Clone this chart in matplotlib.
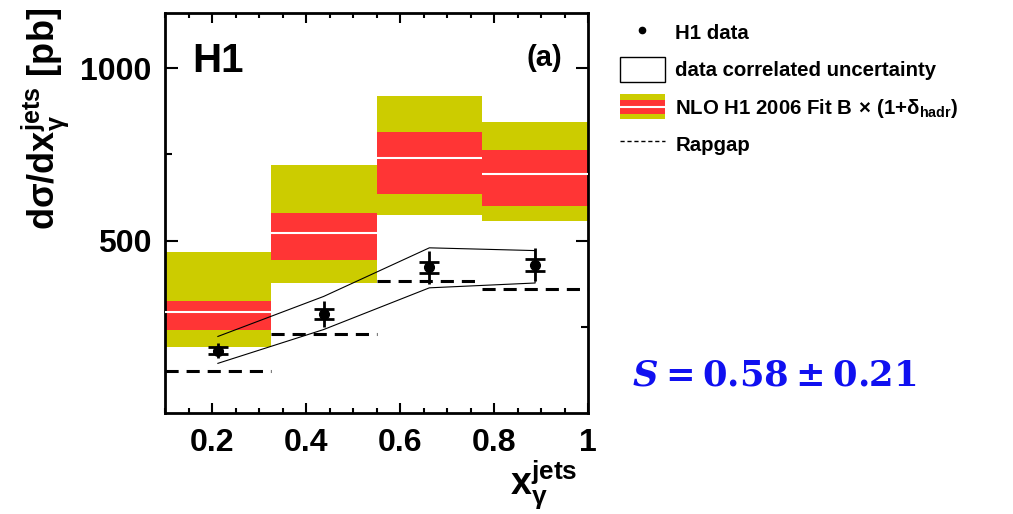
import numpy as np
import matplotlib
matplotlib.use("Agg")
import matplotlib.pyplot as plt
from matplotlib.lines import Line2D
from matplotlib.patches import Rectangle
from matplotlib.legend_handler import HandlerBase

plt.rcParams['font.family'] = ['Liberation Sans', 'DejaVu Sans']
plt.rcParams['font.weight'] = 'bold'
plt.rcParams['mathtext.fontset'] = 'custom'
plt.rcParams['mathtext.rm'] = 'Liberation Sans:bold'
plt.rcParams['mathtext.it'] = 'Liberation Sans:bold'
plt.rcParams['mathtext.bf'] = 'Liberation Sans:bold'

# binning in x_gamma^jets
bin_edges = [0.1, 0.325, 0.55, 0.775, 1.0]
bin_centres = [0.2125, 0.4375, 0.6625, 0.8875]

# H1 data [pb]
data = [181, 287, 423, 430]
stat_err = [11, 15, 16, 17]
tot_err = [22, 37, 48, 48]

# data correlated uncertainty band
corr_up = [222, 338, 479, 471]
corr_dn = [144, 242, 363, 377]

# NLO H1 2006 Fit B x (1+delta_hadr)
nlo = [292, 521, 739, 694]
nlo_in_lo = [242, 445, 634, 600]
nlo_in_hi = [326, 579, 816, 764]
nlo_out_lo = [190, 376, 573, 558]
nlo_out_hi = [468, 718, 918, 845]

# Rapgap
rapgap = [121, 229, 384, 361]

yellow = '#cccc00'
red = '#ff3535'

fig = plt.figure(figsize=(10.13, 5.14), dpi=100)
ax = fig.add_axes([165 / 1013, 1 - 413 / 514, 423 / 1013, 400 / 514])

lo = np.array(bin_edges[:-1])
hi = np.array(bin_edges[1:])
w = hi - lo

ax.bar(lo, np.array(nlo_out_hi) - np.array(nlo_out_lo), width=w, bottom=nlo_out_lo,
       align='edge', color=yellow, linewidth=0, zorder=1)
ax.bar(lo, np.array(nlo_in_hi) - np.array(nlo_in_lo), width=w, bottom=nlo_in_lo,
       align='edge', color=red, linewidth=0, zorder=2)
ax.hlines(nlo, lo, hi, colors='white', linewidth=1.5, zorder=3)

ax.hlines(rapgap, lo, hi, colors='black', linewidth=2.2,
          linestyles=(0, (4.3, 2.6)), zorder=4)

ax.plot(bin_centres + bin_centres[::-1], corr_up + corr_dn[::-1],
        color='black', linewidth=0.8, zorder=5)

ax.errorbar(bin_centres, data, yerr=tot_err, fmt='none', ecolor='black',
            elinewidth=2, zorder=6)
ax.errorbar(bin_centres, data, yerr=stat_err, fmt='o', color='black', ms=7,
            elinewidth=2, capsize=7.5, capthick=2, zorder=7)

ax.set_xlim(0.1, 1.0)
ax.set_ylim(0, 1160)
ax.set_xticks([0.2, 0.4, 0.6, 0.8, 1.0])
ax.set_xticklabels(['0.2', '0.4', '0.6', '0.8', '1'])
ax.set_xticks(np.arange(0.1, 1.0, 0.05), minor=True)
ax.set_yticks([500, 1000])
ax.set_yticks([250, 750], minor=True)
ax.tick_params(which='both', direction='in', top=True, right=True, width=1.5,
               labelsize=23)
ax.tick_params(axis='x', which='major', length=7, pad=11)
ax.tick_params(axis='x', which='minor', length=3.5)
ax.tick_params(axis='y', which='major', length=9, pad=10)
ax.tick_params(axis='y', which='minor', length=5)
for s in ax.spines.values():
    s.set_linewidth(2)

ax.text(0.064, 0.853, 'H1', transform=ax.transAxes, fontsize=29,
        fontweight='bold', va='baseline', ha='left')
ax.text(0.938, 0.868, '(a)', transform=ax.transAxes, fontsize=21,
        fontweight='bold', va='baseline', ha='right')

fig.text(0.045, 0.985, r'd$\sigma$/dx$^{\rm jets}_{\gamma}$ [pb]', rotation=90,
         fontsize=26, fontweight='bold', ha='center', va='top')
fig.text(577 / 1013, 2 / 514, r'x$^{\rm jets}_{\gamma}$', fontsize=27,
         fontweight='bold', ha='right', va='bottom')

fig.text(632 / 1013, 1 - 385 / 514, r'$\mathbfit{S} = \mathbf{0.58} \pm \mathbf{0.21}$',
         fontsize=25.5, color='#1010f0', math_fontfamily='dejavuserif',
         ha='left', va='baseline')


class NLOHandler(HandlerBase):
    def create_artists(self, legend, orig_handle, xdescent, ydescent, width,
                       height, fontsize, trans):
        outer = Rectangle((-xdescent, -ydescent), width, height,
                          facecolor=yellow, edgecolor='none', transform=trans)
        inner = Rectangle((-xdescent, -ydescent + 0.22 * height), width,
                          0.56 * height, facecolor=red, edgecolor='none',
                          transform=trans)
        mid = Line2D([-xdescent, -xdescent + width],
                     [-ydescent + 0.5 * height] * 2, color='white',
                     linewidth=1.5, transform=trans)
        return [outer, inner, mid]


h_data = Line2D([], [], marker='o', ls='none', ms=4.5, color='black')
h_corr = Rectangle((0, 0), 1, 1, facecolor='white', edgecolor='black',
                   linewidth=1)
h_nlo = Rectangle((0, 0), 1, 1)
h_rap = Line2D([], [], color='black', linewidth=1, linestyle=(0, (3, 2)))

fig.legend([h_data, h_corr, h_nlo, h_rap],
           ['H1 data', 'data correlated uncertainty',
            r'NLO H1 2006 Fit B$\,\times\,$(1+$\delta_{\rm hadr}$)', 'Rapgap'],
           handler_map={h_nlo: NLOHandler()},
           loc='upper left', bbox_to_anchor=(620 / 1013, 1 - 20 / 514),
           frameon=False, numpoints=1, handlelength=2.2,
           handleheight=1.5, labelspacing=0.6, handletextpad=0.5,
           borderpad=0, borderaxespad=0, prop={'weight': 'bold', 'size': 14.7})

fig.savefig('out.png', dpi=100)
